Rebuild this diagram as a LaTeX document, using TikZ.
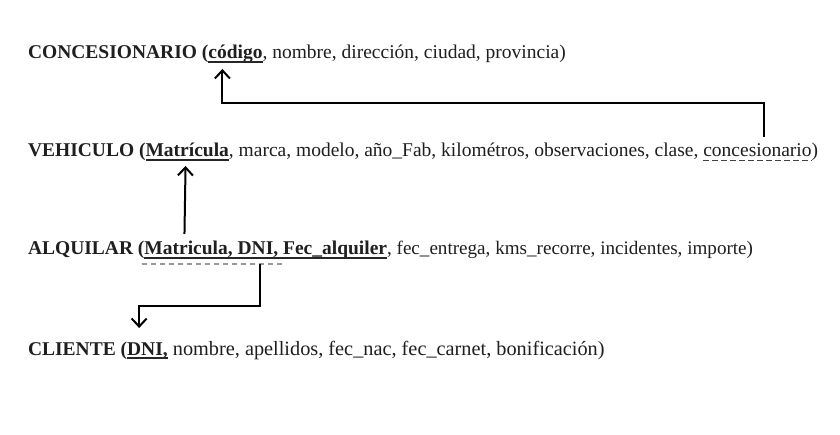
\documentclass[tikz,border=0pt]{standalone}
\usepackage{fontspec}
\setmainfont{Liberation Serif}
\usetikzlibrary{arrows.meta,calc}
\begin{document}
\begin{tikzpicture}[x=1pt,y=-1pt,
  font=\fontsize{19.5}{23}\selectfont,
  seg/.style={inner sep=0pt, outer sep=0pt, anchor=base west, text=black!88},
  ul/.style={line width=1.4pt, black!85},
  dul/.style={line width=1pt, black!75, dash pattern=on 6pt off 3pt},
  gdul/.style={line width=1.2pt, black!40, dash pattern=on 5pt off 4pt},
  fk/.style={line width=2pt, -{Straight Barb[length=8pt,width=15pt,line width=2pt]}}]
\useasboundingbox[fill=white] (0,0) rectangle (840,435);

% CONCESIONARIO
\node[seg] (c1) at (28,59) {\textbf{CONCESIONARIO (}};
\node[seg] (c2) at (c1.base east) {\textbf{código}};
\node[seg] (c3) at (c2.base east) {, nombre, dirección, ciudad, provincia)};
\draw[ul] ($(c2.base west)+(0,3)$) -- ($(c2.base east)+(0,3)$);

% VEHICULO
\node[seg] (v1) at (28,157) {\textbf{VEHICULO (}};
\node[seg] (v2) at (v1.base east) {\textbf{Matrícula}};
\node[seg] (v3) at (v2.base east) {, marca, modelo, año\_Fab, kilométros, observaciones, clase,\kern0.25em};
\node[seg] (v4) at (v3.base east) {concesionario};
\node[seg] (v5) at (v4.base east) {)};
\draw[ul] ($(v2.base west)+(0,3)$) -- ($(v2.base east)+(0,3)$);
\draw[dul] ($(v4.base west)+(0,4)$) -- ($(v4.base east)+(0,4)$);

% ALQUILAR
\node[seg] (a1) at (28,255) {\textbf{ALQUILAR (}};
\node[seg] (a2) at (a1.base east) {\textbf{Matricula, DNI,}\kern0.25em};
\node[seg] (a3) at (a2.base east) {\textbf{Fec\_alquiler}};
\node[seg, font=\fontsize{19.1}{23}\selectfont] (a4) at (a3.base east) {, fec\_entrega, kms\_recorre, incidentes, importe)};
\draw[ul] ($(a2.base west)+(0,3)$) -- ($(a3.base east)+(0,3)$);
\draw[gdul] ($(a2.base west)+(-2,9)$) -- ($(a2.base east)+(0,9)$);

% CLIENTE
\node[seg] (l1) at (28,355) {\textbf{CLIENTE (}};
\node[seg] (l2) at (l1.base east) {\textbf{DNI,}};
\node[seg, font=\fontsize{20.3}{24}\selectfont] (l3) at (l2.base east) {\ nombre, apellidos, fec\_nac, fec\_carnet, bonificación)};
\draw[ul] ($(l2.base west)+(0,3)$) -- ($(l2.base east)+(0,3)$);

% connectors
\coordinate (s1) at ($(v4.base west)+(61,-20)$);
\coordinate (e1) at ($(c2.base west)+(14,10)$);
\draw[fk] (s1) |- ($(e1)+(0,34)$) -- (e1);

\coordinate (s2) at ($(a2.base west)+(40,-21)$);
\coordinate (e2) at ($(v2.base west)+(40,9)$);
\draw[fk] (s2) -- (e2);

\coordinate (s3) at ($(a2.base west)+(116,9)$);
\coordinate (e3) at ($(l2.base west)+(12,-27)$);
\draw[fk] (s3) -- ++(0,42) -| (e3);
\end{tikzpicture}
\end{document}
